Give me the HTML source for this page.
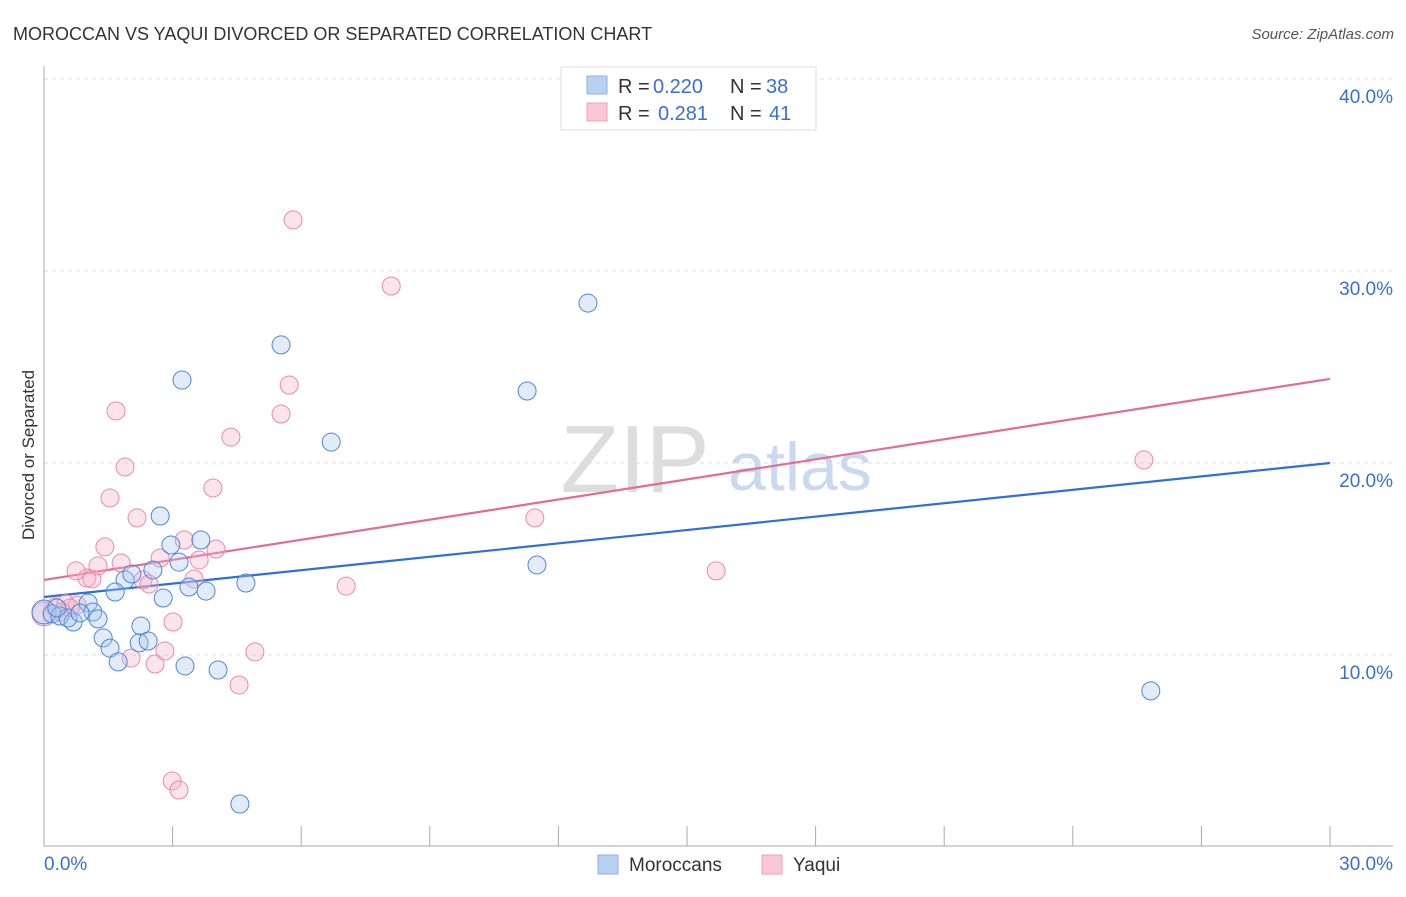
<!DOCTYPE html>
<html><head><meta charset="utf-8"><style>
body{margin:0;background:#fff;font-family:"Liberation Sans",sans-serif;}
svg text{font-family:"Liberation Sans",sans-serif;}
</style></head><body>
<svg id="chart" width="1406" height="892" xmlns="http://www.w3.org/2000/svg">
<text x="13" y="40" font-size="18" fill="#333">MOROCCAN VS YAQUI DIVORCED OR SEPARATED CORRELATION CHART</text>
<text x="1394" y="39" font-size="15" fill="#555" text-anchor="end" font-style="italic">Source: ZipAtlas.com</text>
<text transform="translate(34,455) rotate(-90)" font-size="17" fill="#333" text-anchor="middle">Divorced or Separated</text>
<g>
<text x="635" y="492" font-size="96" fill="#ddd" font-family="Liberation Serif,serif" text-anchor="middle">ZIP</text>
<text x="800" y="490" font-size="68" fill="#c9d9ef" text-anchor="middle">atlas</text>
</g>
<g id="grid"></g>
<g id="axes"></g>
<g id="trend"></g>
<g id="points"></g>
<g>
<rect x="561" y="67" width="255" height="63" fill="#fff" stroke="#ddd"/>
<rect x="587" y="76" width="20" height="18" fill="#b8d0f2" stroke="#8fb2e8"/>
<text x="618" y="93" font-size="20" fill="#333">R = </text>
<text x="653" y="93" font-size="20" fill="#3a6fd0">0.220</text>
<text x="730" y="93" font-size="20" fill="#333">N = </text>
<text x="766" y="93" font-size="20" fill="#3a6fd0">38</text>
<rect x="587" y="103" width="20" height="18" fill="#f9c8d6" stroke="#f0a0b8"/>
<text x="618" y="120" font-size="20" fill="#333">R = </text>
<text x="658" y="120" font-size="20" fill="#3a6fd0">0.281</text>
<text x="730" y="120" font-size="20" fill="#333">N = </text>
<text x="769" y="120" font-size="20" fill="#3a6fd0">41</text>
</g>
<g>
<rect x="598" y="855" width="20" height="19" fill="#b8d0f2" stroke="#8fb2e8"/>
<text x="629" y="871" font-size="19" fill="#333">Moroccans</text>
<rect x="762" y="855" width="20" height="19" fill="#f9c8d6" stroke="#f0a0b8"/>
<text x="793" y="871" font-size="19" fill="#333">Yaqui</text>
</g>
</svg>
<script>
const yTicks=[10,20,30,40];
const yTickLabels=["10.0%","20.0%","30.0%","40.0%"];
const xTickCount=10;
const xTickLabels=["0.0%","30.0%"];
const moroccanX=[0,0.19,0.37,0.68,1.03,1.14,1.26,1.38,1.54,1.73,1.89,2.05,1.66,2.26,2.22,2.43,2.54,2.71,2.78,2.96,3.15,3.22,3.29,3.38,3.66,3.78,4.06,4.57,4.71,5.53,6.70,11.27,11.50,12.69,25.82,0.56,0.84,0.30];
const moroccanY=[12.24,12.14,12.03,11.72,12.71,12.24,11.88,10.89,10.36,9.64,13.91,14.22,13.28,11.51,10.63,10.73,14.43,17.24,12.97,15.73,14.84,24.32,9.43,13.54,15.99,13.33,9.22,2.24,13.75,26.15,21.09,23.75,14.69,28.33,8.13,11.93,12.19,12.45];
const yaquiX=[0,0.26,0.51,0.77,1.00,1.12,1.26,0.75,1.42,1.54,1.68,1.80,1.89,2.03,2.17,2.31,2.45,2.59,2.71,2.82,3.01,2.99,3.15,3.27,3.50,3.62,3.94,4.01,4.36,4.55,4.92,5.53,5.72,5.81,7.05,8.10,11.45,15.68,25.66,0.42,0.61];
const yaquiY=[12.14,12.5,12.66,12.6,14.01,13.96,14.64,14.38,15.63,18.18,22.71,14.79,19.79,9.84,17.14,13.91,13.70,9.53,15.05,10.21,11.72,3.44,2.97,15.99,13.96,14.95,18.70,15.52,21.35,8.44,10.16,22.55,24.06,32.66,13.59,29.22,17.14,14.38,20.16,12.24,12.45];
const moroccanTrend=[13.02,20.0];
const yaquiTrend=[13.91,24.38];

const X0=44,X1=1330,Y0=847,PX=19.2;
const xs=v=>X0+(X1-X0)*v/30;
const ys=v=>Y0-v*PX;
const NS="http://www.w3.org/2000/svg";
function mk(tag,parent,attrs){const e=document.createElementNS(NS,tag);for(const k in attrs)e.setAttribute(k,attrs[k]);parent.appendChild(e);return e;}
const grid=document.getElementById('grid'),axes=document.getElementById('axes'),trend=document.getElementById('trend'),pts=document.getElementById('points');
yTicks.forEach((t,i)=>{
  const l=mk('line',grid,{x1:X0,x2:1393,y1:ys(t),y2:ys(t),stroke:'#ddd','stroke-dasharray':'4,4'});
  
  
  const tx=mk('text',grid,{x:1393,y:ys(t)+24,'font-size':19,fill:'#3a6fd0','text-anchor':'end'});
  tx.textContent=yTickLabels[i];
  
  
});
const ya=mk('line',axes,{x1:X0,x2:X0,y1:66,y2:846,stroke:'#aaa'});


const xa=mk('line',axes,{x1:X0,x2:1393,y1:846,y2:846,stroke:'#aaa'});


for(let i=0;i<=xTickCount;i++){
  const x=xs(30*i/xTickCount);
  const t=mk('line',axes,{x1:x,x2:x,y1:826,y2:846,stroke:'#aaa'});
  
  
}
const xl0=mk('text',axes,{x:44,y:870,'font-size':19,fill:'#3a6fd0'});xl0.textContent=xTickLabels[0];


const xl1=mk('text',axes,{x:1393,y:870,'font-size':19,fill:'#3a6fd0','text-anchor':'end'});xl1.textContent=xTickLabels[1];



function drawPts(X,Y,fill,stroke,name){
  X.forEach((x,i)=>{
    const r=(x===0)?12:9;
    const c=mk('circle',pts,{cx:xs(x),cy:ys(Y[i]),r:r,fill:fill,stroke:stroke,'stroke-width':1,'fill-opacity':0.35});
    
    
  });
}
drawPts(yaquiX,yaquiY,'#f6b3c8','#e98aa8','yaqui-point');
drawPts(moroccanX,moroccanY,'#a9c6f0','#4f86d8','moroccan-point');
const tb=mk('line',trend,{x1:xs(0),y1:ys(moroccanTrend[0]),x2:xs(30),y2:ys(moroccanTrend[1]),stroke:'#2f6fd6','stroke-width':2.2});


const tp=mk('line',trend,{x1:xs(0),y1:ys(yaquiTrend[0]),x2:xs(30),y2:ys(yaquiTrend[1]),stroke:'#e56a95','stroke-width':2.2});


</script>
</body></html>
